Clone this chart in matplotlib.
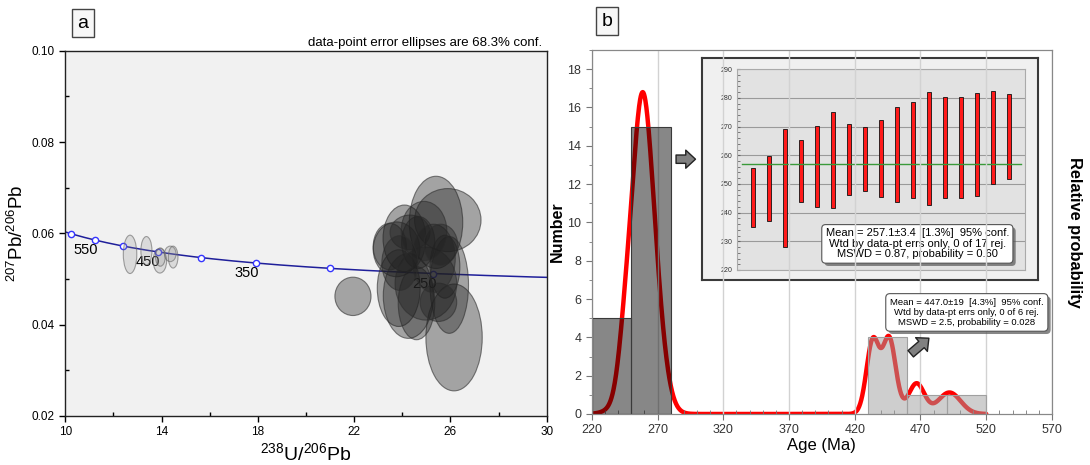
import numpy as np
import matplotlib.pyplot as plt
import matplotlib.patheffects as pe
from matplotlib.patches import Ellipse
from matplotlib.ticker import MultipleLocator

plt.rcParams['font.family'] = ['Liberation Sans', 'DejaVu Sans']
plt.rcParams['mathtext.fontset'] = 'custom'
plt.rcParams['mathtext.rm'] = 'Liberation Sans'
plt.rcParams['mathtext.it'] = 'Liberation Sans:italic'

# ---- Tera-Wasserburg data, 1 sigma error ellipses ----
# younger population (~257 Ma)
young_x = [21.95, 26.15, 25.40, 25.89, 24.09, 23.76, 24.66, 25.77, 25.95, 23.85,
           24.25, 24.59, 24.98, 25.50, 23.48, 24.32, 25.30, 24.90, 23.90, 25.60]
young_sx = [0.75, 1.17, 1.11, 1.38, 0.89, 0.97, 0.69, 0.62, 0.80, 0.89,
            1.04, 0.76, 1.28, 0.76, 0.69, 0.83, 0.90, 0.95, 0.75, 0.70]
young_y = [0.0462, 0.0372, 0.0624, 0.0629, 0.0589, 0.0565, 0.0580, 0.0527, 0.0487, 0.0480,
           0.0463, 0.0447, 0.0490, 0.0449, 0.0571, 0.0602, 0.0545, 0.0605, 0.0535, 0.0575]
young_sy = [0.0042, 0.0117, 0.0101, 0.0069, 0.0073, 0.0060, 0.0057, 0.0069, 0.0106, 0.0084,
            0.0093, 0.0080, 0.0080, 0.0042, 0.0051, 0.0038, 0.0075, 0.0065, 0.0060, 0.0045]
# older population (~447 Ma)
old_x = [12.69, 13.37, 13.93, 13.95, 14.36, 14.48]
old_sx = [0.28, 0.23, 0.28, 0.20, 0.24, 0.20]
old_y = [0.0554, 0.0562, 0.0540, 0.0548, 0.0555, 0.0548]
old_sy = [0.0042, 0.0031, 0.0027, 0.0020, 0.0017, 0.0024]

# concordia age marks (Ma) and the ones that get a label
conc_marks = [250, 300, 350, 400, 450, 500, 550, 600]
conc_labels = [250, 350, 450, 550]

# ---- histogram (Ma) ----
bin_width = 30
young_bins = [220, 250]
young_counts = [5, 15]
old_bins = [430, 460, 490]
old_counts = [4, 1, 1]

# ---- single grain ages (Ma) ----
# young grains: age and 95% error (weighted-mean inset)
young_age = [245.2, 248.5, 248.7, 254.4, 256.1, 258.4, 258.5, 258.7, 258.9,
             260.3, 261.9, 262.5, 262.6, 262.8, 263.8, 266.3, 266.7]
young_err95 = [10.3, 11.4, 20.6, 10.8, 14.0, 16.7, 12.3, 11.1, 13.3,
               16.7, 16.7, 19.7, 17.6, 17.6, 17.9, 16.2, 14.8]
# old grains: age and 1 sigma error
old_age = [433.5, 434.5, 446.0, 447.0, 467.0, 492.0]
old_sig = [4.5, 5.5, 4.5, 5.5, 6.0, 8.5]

young_mean = 257.1
young_text = ("Mean = 257.1\u00b13.4  [1.3%]  95% conf.\n"
              "Wtd by data-pt errs only, 0 of 17 rej.\n"
              "MSWD = 0.87, probability = 0.60")
old_text = ("Mean = 447.0\u00b119  [4.3%]  95% conf.\n"
            "Wtd by data-pt errs only, 0 of 6 rej.\n"
            "MSWD = 2.5, probability = 0.028")

# decay constants (1/yr)
L238 = 1.55125e-10
L235 = 9.8485e-10
U85 = 137.88


def tw_point(t_ma):
    t = np.asarray(t_ma, dtype=float) * 1e6
    e8 = np.exp(L238 * t) - 1
    e5 = np.exp(L235 * t) - 1
    return 1 / e8, e5 / e8 / U85


fig = plt.figure(figsize=(10.9, 4.65), dpi=100)

# ================= a: concordia =================
axA = fig.add_axes([0.0599, 0.1054, 0.4417, 0.7856])
axA.set_facecolor('#f1f1f1')

tt = np.linspace(200, 640, 600)
cx, cy = tw_point(tt)
axA.plot(cx, cy, color='#1f1f9a', lw=1.1, zorder=2)
mx, my = tw_point(conc_marks)
axA.plot(mx, my, 'o', ms=4.5, mfc='white', mec='#3535ff', mew=1, zorder=2.5)
lx, ly = tw_point(conc_labels)
for age, x, y in zip(conc_labels, lx, ly):
    axA.text(x - 0.38, y - 0.0022, str(age), ha='center', va='center',
             fontsize=10.5, zorder=2.5)

for x, sx, y, sy in zip(old_x, old_sx, old_y, old_sy):
    axA.add_patch(Ellipse((x, y), 2 * sx, 2 * sy, fc=(0.55, 0.55, 0.55, 0.22),
                          ec=(0.4, 0.4, 0.4, 0.6), lw=0.8, zorder=3))
for x, sx, y, sy in zip(young_x, young_sx, young_y, young_sy):
    axA.add_patch(Ellipse((x, y), 2 * sx, 2 * sy, fc=(0.12, 0.12, 0.12, 0.37),
                          ec=(0.18, 0.18, 0.18, 0.6), lw=0.8, zorder=3))

axA.set_xlim(10, 30)
axA.set_ylim(0.02, 0.10)
axA.set_xticks(np.arange(10, 31, 4))
axA.set_xticks(np.arange(12, 30, 4), minor=True)
axA.yaxis.set_major_locator(MultipleLocator(0.02))
axA.yaxis.set_minor_locator(MultipleLocator(0.01))
axA.yaxis.set_major_formatter(lambda v, p: f'{v:.2f}')
axA.tick_params(which='major', direction='out', length=4, width=1, labelsize=8.5)
axA.tick_params(which='minor', direction='in', length=3, width=1)
for s in axA.spines.values():
    s.set_color('#222222')
    s.set_linewidth(1)
axA.set_xlabel(r'$^{238}$U/$^{206}$Pb', fontsize=14)
axA.xaxis.set_label_coords(0.5, -0.072)
axA.set_ylabel(r'$^{207}$Pb/$^{206}$Pb', fontsize=13.5)
axA.yaxis.set_label_coords(-0.08, 0.5)
axA.text(0.99, 1.004, 'data-point error ellipses are 68.3% conf.',
         transform=axA.transAxes, ha='right', va='bottom', fontsize=9.5)

# ================= b: histogram + probability curve =================
axB = fig.add_axes([0.5429, 0.1097, 0.4222, 0.7828])
axP = axB.twinx()
axB.set_zorder(axP.get_zorder() + 1)
axB.patch.set_visible(False)
axP.set_facecolor('#f1f1f1')

grid = np.linspace(220, 520, 1200)
ages = np.concatenate([young_age, old_age])
sig = np.concatenate([np.array(young_err95) / 2, old_sig])
dens = np.exp(-0.5 * ((grid[:, None] - ages) / sig) ** 2) / (sig * np.sqrt(2 * np.pi))
dens = dens.sum(axis=1)
axP.plot(grid, dens, color='#ff0000', lw=3.2, solid_capstyle='round')
axP.set_ylim(0, dens.max() * 19 / 16.8)
axP.set_yticks([])

axB.xaxis.grid(True, color='#d2d2d2', lw=1)
axB.set_axisbelow(True)
axB.bar(young_bins, young_counts, width=bin_width, align='edge',
        color=(0, 0, 0, 0.47), edgecolor='#3a3a3a', lw=0.8)
axB.bar(old_bins, old_counts, width=bin_width, align='edge',
        color=(0.62, 0.62, 0.62, 0.5), edgecolor='#a0a0a0', lw=0.8)

axB.set_xlim(220, 570)
axB.set_ylim(0, 19)
axB.set_xticks(np.arange(220, 571, 50))
axB.xaxis.set_minor_locator(MultipleLocator(10))
axB.yaxis.set_major_locator(MultipleLocator(2))
axB.yaxis.set_minor_locator(MultipleLocator(1))
axB.tick_params(which='major', direction='out', length=4, color='#777777',
                labelsize=9, labelcolor='#333333')
axB.tick_params(axis='x', which='minor', direction='in', length=3, color='#777777')
axB.tick_params(axis='y', which='minor', direction='out', length=2.5, color='#777777')
for ax in (axB, axP):
    for s in ax.spines.values():
        s.set_color('#888888')
axB.set_xlabel('Age (Ma)', fontsize=12)
axB.xaxis.set_label_coords(0.5, -0.066)
axB.set_ylabel('Number', fontsize=11.5, fontweight='bold')
axB.yaxis.set_label_coords(-0.058, 0.5)
axP.text(1.05, 0.5, 'Relative probability', transform=axP.transAxes, rotation=270,
         ha='center', va='center', fontsize=11.8, fontweight='bold')

arrow = dict(arrowstyle='simple,head_length=0.7,head_width=1.3,tail_width=0.6',
             fc='#808080', ec='#222222', lw=1)
axB.annotate('', xy=(301, 13.3), xytext=(282, 13.3), arrowprops=arrow)
axB.annotate('', xy=(478, 4.05), xytext=(461, 3.05), arrowprops=arrow)

shadow = [pe.withSimplePatchShadow(offset=(2, -2), shadow_rgbFace='#555555', alpha=0.7)]
t_old = axB.text(0.815, 0.279, old_text, transform=axB.transAxes, ha='center',
                 va='center', fontsize=6.8, linespacing=1.15,
                 bbox=dict(boxstyle='round,pad=0.45', fc='white', ec='#555555', lw=0.8))
t_old.get_bbox_patch().set_path_effects(shadow)

# ---- inset: weighted mean of the young grains ----
frame = fig.add_axes([0.6438, 0.3978, 0.3088, 0.4768])
frame.set_facecolor('#f0f0f0')
frame.set_xticks([])
frame.set_yticks([])
for s in frame.spines.values():
    s.set_color('#3a3a3a')
    s.set_linewidth(1.5)

ins = fig.add_axes([0.6764, 0.4194, 0.2639, 0.4316])
ins.set_facecolor('#e2e2e2')
idx = np.arange(1, len(young_age) + 1)
lo = np.array(young_age) - np.array(young_err95)
ins.bar(idx, 2 * np.array(young_err95), bottom=lo, width=0.28,
        color='#ff1a1a', edgecolor='#111111', lw=0.6, zorder=3)
ins.axhline(young_mean, xmin=0.015, xmax=0.985, color='#3a9a3a', lw=1, zorder=4)
ins.set_xlim(0, 18)
ins.set_ylim(220, 290)
ins.set_xticks([])
ins.yaxis.set_major_locator(MultipleLocator(10))
ins.yaxis.set_minor_locator(MultipleLocator(2))
ins.tick_params(axis='y', which='both', direction='in', length=2, labelsize=5,
                labelcolor='#333333', color='#666666')
ins.yaxis.grid(True, color='#9a9a9a', lw=0.8)
ins.set_axisbelow(True)
for s in ins.spines.values():
    s.set_color('#aaaaaa')
t_young = ins.text(0.626, 0.13, young_text, transform=ins.transAxes, ha='center',
                   va='center', fontsize=8, linespacing=1.05, zorder=5,
                   bbox=dict(boxstyle='round,pad=0.35', fc='white', ec='#555555', lw=0.8))
t_young.get_bbox_patch().set_path_effects(shadow)

# panel letters
for x, y, s in [(83 / 1090, 1 - 23 / 465, 'a'), (607 / 1090, 1 - 21 / 465, 'b')]:
    fig.text(x, y, s, ha='center', va='center', fontsize=14,
             bbox=dict(boxstyle='square,pad=0.3', fc='#f7f7f7', ec='#444444', lw=1))

fig.savefig('out.png', dpi=100)
